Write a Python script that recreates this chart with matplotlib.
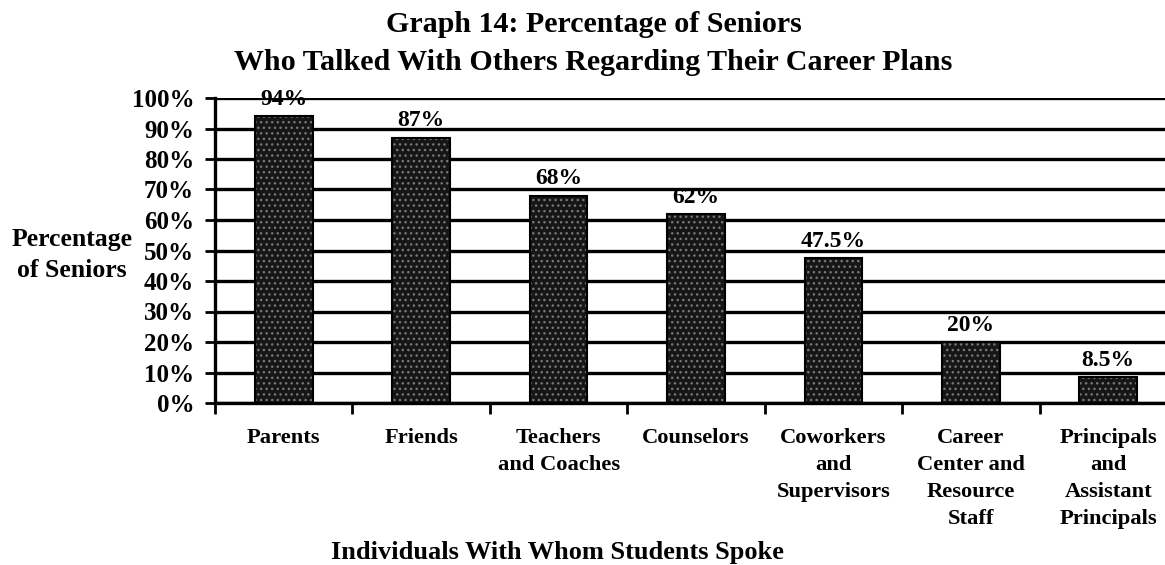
import matplotlib

matplotlib.use('Agg')
import matplotlib.pyplot as plt
import numpy as np

categories = ['Parents', 'Friends', 'Teachers\nand Coaches', 'Counselors',
              'Coworkers\nand\nSupervisors', 'Career\nCenter and\nResource\nStaff',
              'Principals\nand\nAssistant\nPrincipals']
values = [94, 87, 68, 62, 47.5, 20, 8.5]
value_labels = ['94%', '87%', '68%', '62%', '47.5%', '20%', '8.5%']
yticks = list(range(0, 101, 10))

plt.rcParams['font.family'] = ['Liberation Serif', 'DejaVu Serif']
plt.rcParams['font.weight'] = 'bold'

fig = plt.figure(figsize=(11.65, 5.65), dpi=100)
ax = fig.add_axes([215 / 1165, 1 - 403 / 565, 962 / 1165, 305 / 565])

x = np.arange(len(categories))
# stippled dark bars: grey dots over near-black fill, then a black outline
ax.bar(x, values, width=0.42, color='#161616', edgecolor='#777777', hatch='...', linewidth=0, zorder=2)
ax.bar(x, values, width=0.42, fill=False, edgecolor='black', linewidth=1.5, zorder=3)

for xi, v, lab in zip(x, values, value_labels):
    ax.annotate(lab, (xi, v), xytext=(0, 4.5), textcoords='offset points',
                ha='center', va='bottom', fontsize=17, fontweight='bold', zorder=4)

ax.set_xlim(-0.5, len(categories) - 0.5)
ax.set_ylim(0, 100)
ax.set_yticks(yticks)
ax.set_yticklabels([f'{t}%' for t in yticks], fontsize=18, fontweight='bold')
ax.yaxis.grid(True, color='black', linewidth=2.4)
ax.set_axisbelow(True)

ax.set_xticks(x)
ax.set_xticklabels(categories, fontsize=16.2, fontweight='bold', linespacing=1.47, va='top')
ax.set_xticks(np.arange(len(categories) + 1) - 0.5, minor=True)
ax.tick_params(axis='x', which='major', length=0, pad=18)
ax.tick_params(axis='x', which='minor', length=8, width=2, direction='out')
ax.tick_params(axis='y', length=7, width=2, direction='out', pad=8)

for s in ['top', 'right']:
    ax.spines[s].set_visible(False)
ax.spines['left'].set_linewidth(2.4)
ax.spines['bottom'].set_linewidth(2.4)

fig.text(594 / 1165, 1 - 25 / 565, 'Graph 14: Percentage of Seniors',
         ha='center', va='center', fontsize=21.6, fontweight='bold')
fig.text(593 / 1165, 1 - 63 / 565, 'Who Talked With Others Regarding Their Career Plans',
         ha='center', va='center', fontsize=21.6, fontweight='bold')
fig.text(72 / 1165, 1 - 255 / 565, 'Percentage\nof Seniors', ha='center', va='center',
         fontsize=18.5, fontweight='bold', linespacing=1.45)
fig.text(557 / 1165, 1 - 553 / 565, 'Individuals With Whom Students Spoke',
         ha='center', va='center', fontsize=19, fontweight='bold')

fig.savefig('out.png', dpi=100, facecolor='white')
